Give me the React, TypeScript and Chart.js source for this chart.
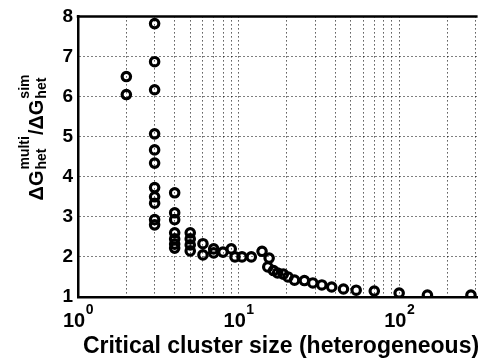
import React, { useEffect, useRef } from "react";
import { Chart, registerables } from "chart.js";

Chart.register(...registerables);

// Critical cluster size (x) and ratio ΔG_multi/ΔG_sim (y)
const clusterSize: number[] = [
  2, 2,
  3, 3, 3, 3, 3, 3, 3, 3, 3, 3, 3,
  4, 4, 4, 4, 4, 4, 4,
  5, 5, 5, 5,
  6, 6,
  7, 7,
  8,
  9, 9.5,
  10.5, 12,
  14, 15.5, 15.2, 16.5, 17.5, 19, 20.3,
  22.3, 25.7, 29, 33, 38, 45, 54, 70, 100, 150, 280,
];
const ratio: number[] = [
  6.5, 6.05,
  7.82, 6.87, 6.17, 5.07, 4.67, 4.34, 3.73, 3.5, 3.34, 2.93, 2.8,
  3.6, 3.1, 2.93, 2.6, 2.45, 2.32, 2.22,
  2.6, 2.45, 2.3, 2.15,
  2.33, 2.05,
  2.2, 2.1,
  2.12,
  2.2, 2.0,
  2.0, 2.0,
  2.14, 1.97, 1.75, 1.66, 1.6, 1.57, 1.5,
  1.42, 1.41, 1.35, 1.3, 1.25, 1.2, 1.17, 1.15, 1.1, 1.05, 1.05,
];
const yTicks: number[] = [1, 2, 3, 4, 5, 6, 7, 8];
const xGridValues: number[] = [1, 2, 3, 4, 5, 6, 7, 8, 9, 10, 20, 30, 40, 50, 60, 70, 80, 90, 100, 200, 300];
const xLabelExponents: number[] = [0, 1, 2];
const xTitle = "Critical cluster size (heterogeneous)";

const FONT = "'Liberation Sans', Arial, Helvetica, sans-serif";

const customText = {
  id: "customText",
  afterDraw(chart: any) {
    const ctx = chart.ctx as CanvasRenderingContext2D;
    const area = chart.chartArea;
    const xs = chart.scales.x;
    ctx.save();
    // top border
    ctx.strokeStyle = "#000";
    ctx.lineWidth = 2.5;
    ctx.beginPath();
    ctx.moveTo(area.left - 1.25, area.top);
    ctx.lineTo(area.right, area.top);
    ctx.stroke();

    ctx.fillStyle = "#000";
    ctx.textBaseline = "alphabetic";
    // x tick labels 10^n
    for (const e of xLabelExponents) {
      const px = xs.getPixelForValue(Math.pow(10, e));
      ctx.font = `bold 20px ${FONT}`;
      const w1 = ctx.measureText("10").width;
      ctx.font = `bold 14px ${FONT}`;
      const w2 = ctx.measureText(String(e)).width;
      const start = px - (w1 + w2) / 2;
      ctx.font = `bold 20px ${FONT}`;
      ctx.textAlign = "left";
      ctx.fillText("10", start, 327);
      ctx.font = `bold 14px ${FONT}`;
      ctx.fillText(String(e), start + w1 + 0.5, 314);
    }
    // x title
    ctx.font = `bold 23px ${FONT}`;
    ctx.textAlign = "center";
    ctx.fillText(xTitle, 281, 353);

    // y title: ΔG^multi_het / ΔG^sim_het, rotated
    const mainF = `bold 20px ${FONT}`;
    const smallF = `bold 14px ${FONT}`;
    const parts: { main: string; sup: string; sub: string }[] = [
      { main: "\u0394G", sup: "multi", sub: "het" },
      { main: "/\u0394G", sup: "sim", sub: "het" },
    ];
    let total = 0;
    const widths: number[][] = [];
    for (const p of parts) {
      ctx.font = mainF;
      const wm = ctx.measureText(p.main).width;
      ctx.font = smallF;
      const ws = Math.max(ctx.measureText(p.sup).width, ctx.measureText(p.sub).width);
      widths.push([wm, ws]);
      total += wm + ws + 2;
    }
    ctx.translate(43, 137);
    ctx.rotate(-Math.PI / 2);
    ctx.textAlign = "left";
    let x = -total / 2;
    parts.forEach((p, i) => {
      ctx.font = mainF;
      ctx.fillText(p.main, x, 0);
      x += widths[i][0] + 1;
      ctx.font = smallF;
      ctx.fillText(p.sup, x, -14);
      ctx.fillText(p.sub, x, 3);
      x += widths[i][1] + 1;
    });
    ctx.restore();
  },
};

export default function App() {
  const ref = useRef<HTMLCanvasElement | null>(null);
  useEffect(() => {
    if (!ref.current) return;
    const data = clusterSize.map((v, i) => ({ x: v, y: ratio[i] }));
    const chart = new Chart(ref.current, {
      type: "scatter",
      data: {
        datasets: [
          {
            data,
            pointStyle: "circle",
            pointRadius: 4.2,
            pointBorderWidth: 3.2,
            borderColor: "#000",
            backgroundColor: "rgba(0,0,0,0)",
          },
        ],
      },
      options: {
        responsive: false,
        animation: false,
        layout: { padding: { left: 0, right: 0, top: 15, bottom: 0 } },
        plugins: { legend: { display: false }, tooltip: { enabled: false } },
        scales: {
          x: {
            type: "logarithmic",
            min: 1,
            max: 308,
            afterBuildTicks: (s: any) => {
              s.ticks = xGridValues.map((v) => ({ value: v }));
            },
            afterFit: (s: any) => {
              s.height = 63;
            },
            ticks: { display: false },
            grid: { color: "#000", lineWidth: 1, drawTicks: false, tickLength: 0 },
            border: { display: true, color: "#000", width: 2.5, dash: [1, 3] },
          },
          y: {
            min: 1,
            max: 8,
            afterBuildTicks: (s: any) => {
              s.ticks = yTicks.map((v) => ({ value: v }));
            },
            afterFit: (s: any) => {
              s.width = 78;
            },
            ticks: {
              color: "#000",
              padding: 5,
              font: { family: FONT, size: 19, weight: "bold" },
            },
            grid: { color: "#000", lineWidth: 1, drawTicks: false, tickLength: 0 },
            border: { display: true, color: "#000", width: 2.5, dash: [1, 3] },
          },
        },
      },
      plugins: [customText],
    } as any);
    return () => chart.destroy();
  }, []);
  return (
    <div style={{ position: "fixed", left: 0, top: 0, width: 485, height: 360, background: "#fff" }}>
      <canvas ref={ref} width={485} height={360} style={{ display: "block" }} />
    </div>
  );
}
